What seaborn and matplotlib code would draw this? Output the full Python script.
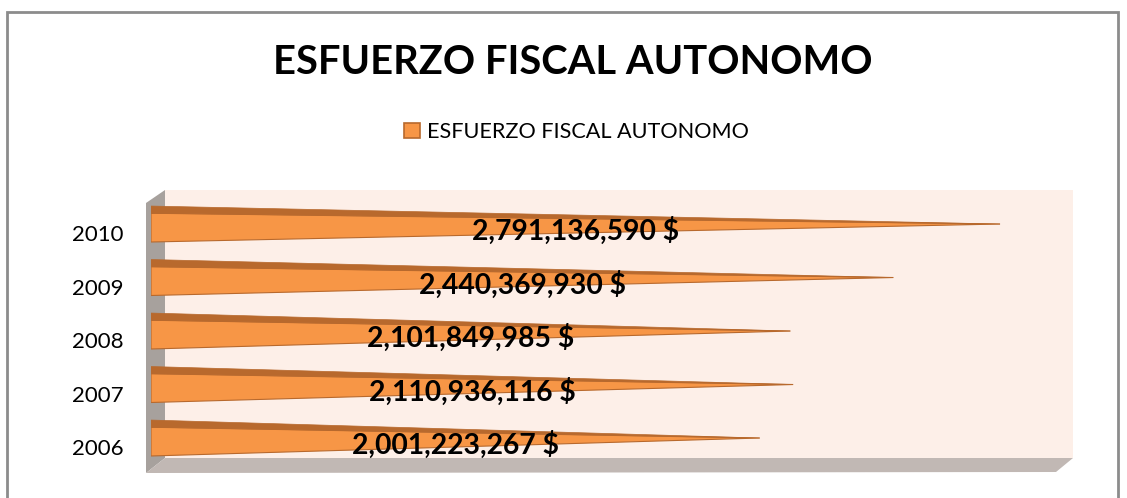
import matplotlib
matplotlib.use("Agg")
import matplotlib.pyplot as plt
from matplotlib.patches import Polygon, Rectangle, Patch
from matplotlib.transforms import ScaledTranslation
import seaborn as sns
import pandas as pd

# datos
anios = ["2010", "2009", "2008", "2007", "2006"]
valores = [2791136590, 2440369930, 2101849985, 2110936116, 2001223267]
serie = "ESFUERZO FISCAL AUTONOMO"

W, H = 1127, 498
sns.set_style("white")
plt.rcParams["font.family"] = ["Lato", "DejaVu Sans"]
plt.rcParams["text.color"] = "black"
plt.rcParams["ytick.color"] = "black"

fig = plt.figure(figsize=(W / 100, H / 100), dpi=100)


def fx(x, y):
    # pixel -> fraccion de figura
    return (x / W, 1 - y / H)


# marco exterior
fig.patches.append(Rectangle(fx(7, 520), (1118 - 7) / W, (520 - 12) / H, transform=fig.transFigure,
                             fill=False, edgecolor="#8c8c8c", linewidth=2, zorder=-1))

# paredes 3D
fig.patches.append(Polygon([fx(165, 190), fx(1073, 190), fx(1073, 458), fx(165, 458)],
                           closed=True, transform=fig.transFigure, facecolor="#fdefe8",
                           edgecolor="none", zorder=-1))
fig.patches.append(Polygon([fx(146, 203), fx(165, 190), fx(165, 458), fx(146, 473)],
                           closed=True, transform=fig.transFigure, facecolor="#a7a19d",
                           edgecolor="none", zorder=-1))
fig.patches.append(Polygon([fx(146, 473), fx(165, 458), fx(1073, 458), fx(1056, 472)],
                           closed=True, transform=fig.transFigure, facecolor="#c1b8b4",
                           edgecolor="none", zorder=-1))

ax = fig.add_axes([151 / W, 1 - 473 / H, (1073 - 151) / W, (473 - 190) / H])
ax.patch.set_alpha(0)

df = pd.DataFrame({"anio": anios, "valor": valores})
sns.barplot(data=df, y="anio", x="valor", order=anios, orient="h", width=0.672,
            color="#f79646", ax=ax)

# convertir barras en conos
claro = "#f79646"
oscuro = "#b8692d"
for p in list(ax.patches):
    y0 = p.get_y()
    h = p.get_height()
    v = p.get_width()
    c = y0 + h / 2
    p.remove()
    ax.add_patch(Polygon([(0, y0 + h * 0.2), (0, y0 + h), (v, c)], closed=True,
                         facecolor=claro, edgecolor=oscuro, linewidth=0.8))
    ax.add_patch(Polygon([(0, y0), (0, y0 + h * 0.2), (v, c)], closed=True,
                         facecolor=oscuro, edgecolor=oscuro, linewidth=0.5))
    ax.text(v / 2, c + 0.13, f"{v:,.0f} $", ha="center", va="center",
            fontsize=20.3, fontweight="bold", color="black")

ax.set_xlim(0, 3.031e9)
ax.set_ylim(4.654, -0.636)
ax.set_xticks([])
ax.set_xlabel("")
ax.set_ylabel("")
sns.despine(ax=ax, left=True, bottom=True)
ax.tick_params(axis="y", length=0, pad=20, labelsize=16)
off = ScaledTranslation(0, -0.09, fig.dpi_scale_trans)
for t in ax.get_yticklabels():
    t.set_transform(t.get_transform() + off)

fig.text(572.5 / W, 1 - 63 / H, serie, ha="center", va="center", fontsize=28.7, fontweight="bold")
fig.legend(handles=[Patch(facecolor=claro, edgecolor=oscuro, linewidth=1.2, label=serie)],
           loc="center", bbox_to_anchor=(576.5 / W, 1 - 132 / H), frameon=False, fontsize=15.6,
           handlelength=0.75, handleheight=0.75, handletextpad=0.3)

fig.savefig("out.png", dpi=100)
